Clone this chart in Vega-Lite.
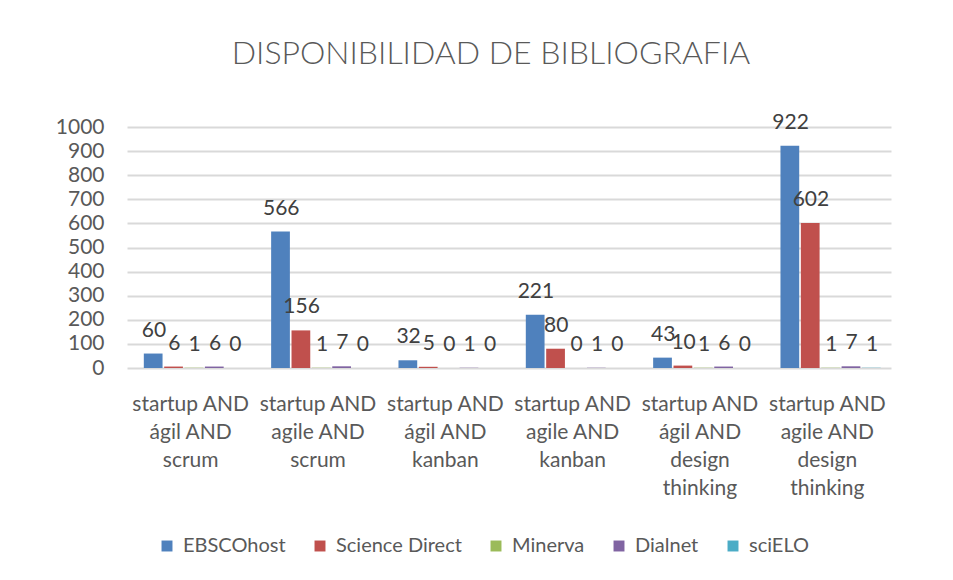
{
  "$schema": "https://vega.github.io/schema/vega-lite/v6.json",
  "width": 764,
  "height": 241,
  "autosize": {"type": "none"},
  "padding": {"left": 127, "top": 127, "right": 62, "bottom": 212},
  "background": "white",
  "title": {
    "text": "DISPONIBILIDAD DE BIBLIOGRAFIA",
    "anchor": "middle",
    "dx": -18,
    "offset": 41,
    "fontSize": 32,
    "font": "Lato",
    "fontWeight": 300,
    "color": "#595959"
  },
  "data": {
    "values": [
      {"query": "startup AND|ágil AND|scrum", "source": "EBSCOhost", "value": 60},
      {"query": "startup AND|ágil AND|scrum", "source": "Science Direct", "value": 6},
      {"query": "startup AND|ágil AND|scrum", "source": "Minerva", "value": 1},
      {"query": "startup AND|ágil AND|scrum", "source": "Dialnet", "value": 6},
      {"query": "startup AND|ágil AND|scrum", "source": "sciELO", "value": 0},
      {"query": "startup AND|agile AND|scrum", "source": "EBSCOhost", "value": 566},
      {"query": "startup AND|agile AND|scrum", "source": "Science Direct", "value": 156},
      {"query": "startup AND|agile AND|scrum", "source": "Minerva", "value": 1},
      {"query": "startup AND|agile AND|scrum", "source": "Dialnet", "value": 7},
      {"query": "startup AND|agile AND|scrum", "source": "sciELO", "value": 0},
      {"query": "startup AND|ágil AND|kanban", "source": "EBSCOhost", "value": 32},
      {"query": "startup AND|ágil AND|kanban", "source": "Science Direct", "value": 5},
      {"query": "startup AND|ágil AND|kanban", "source": "Minerva", "value": 0},
      {"query": "startup AND|ágil AND|kanban", "source": "Dialnet", "value": 1},
      {"query": "startup AND|ágil AND|kanban", "source": "sciELO", "value": 0},
      {"query": "startup AND|agile AND|kanban", "source": "EBSCOhost", "value": 221},
      {"query": "startup AND|agile AND|kanban", "source": "Science Direct", "value": 80},
      {"query": "startup AND|agile AND|kanban", "source": "Minerva", "value": 0},
      {"query": "startup AND|agile AND|kanban", "source": "Dialnet", "value": 1},
      {"query": "startup AND|agile AND|kanban", "source": "sciELO", "value": 0},
      {"query": "startup AND|ágil AND|design|thinking", "source": "EBSCOhost", "value": 43},
      {"query": "startup AND|ágil AND|design|thinking", "source": "Science Direct", "value": 10},
      {"query": "startup AND|ágil AND|design|thinking", "source": "Minerva", "value": 1},
      {"query": "startup AND|ágil AND|design|thinking", "source": "Dialnet", "value": 6},
      {"query": "startup AND|ágil AND|design|thinking", "source": "sciELO", "value": 0},
      {"query": "startup AND|agile AND|design|thinking", "source": "EBSCOhost", "value": 922},
      {"query": "startup AND|agile AND|design|thinking", "source": "Science Direct", "value": 602},
      {"query": "startup AND|agile AND|design|thinking", "source": "Minerva", "value": 1},
      {"query": "startup AND|agile AND|design|thinking", "source": "Dialnet", "value": 7},
      {"query": "startup AND|agile AND|design|thinking", "source": "sciELO", "value": 1}
    ]
  },
  "encoding": {
    "x": {
      "field": "query",
      "type": "nominal",
      "sort": null,
      "scale": {"paddingInner": 0.2, "paddingOuter": 0.1},
      "axis": {
        "title": null,
        "labelAngle": 0,
        "labelExpr": "split(datum.label, '|')",
        "labelFontSize": 21,
        "labelLineHeight": 28,
        "labelFont": "Lato",
        "labelColor": "#595959",
        "labelBaseline": "top",
        "labelPadding": 25,
        "domain": false,
        "ticks": false,
        "labelLimit": 200
      }
    },
    "xOffset": {
      "field": "source",
      "type": "nominal",
      "sort": ["EBSCOhost", "Science Direct", "Minerva", "Dialnet", "sciELO"],
      "scale": {"paddingInner": 0.0}
    },
    "y": {
      "field": "value",
      "type": "quantitative",
      "scale": {"domain": [0, 1000]},
      "axis": {
        "title": null,
        "format": "d",
        "values": [0, 100, 200, 300, 400, 500, 600, 700, 800, 900, 1000],
        "labelFontSize": 21,
        "labelFont": "Lato",
        "labelColor": "#595959",
        "labelPadding": 23,
        "domain": false,
        "ticks": false,
        "gridColor": "#d9d9d9",
        "gridWidth": 2
      }
    }
  },
  "layer": [
    {
      "mark": {"type": "bar", "width": {"band": 0.92}},
      "encoding": {
        "color": {
          "field": "source",
          "type": "nominal",
          "sort": ["EBSCOhost", "Science Direct", "Minerva", "Dialnet", "sciELO"],
          "scale": {
            "domain": ["EBSCOhost", "Science Direct", "Minerva", "Dialnet", "sciELO"],
            "range": ["#4F81BD", "#C0504D", "#9BBB59", "#8064A2", "#4BACC6"]
          },
          "legend": {
            "title": null,
            "orient": "none",
            "direction": "horizontal",
            "legendX": 30,
            "legendY": 409,
            "symbolType": "square",
            "symbolSize": 120,
            "symbolStrokeWidth": 0,
            "labelFontSize": 20,
            "labelFont": "Lato",
            "labelColor": "#595959",
            "columnPadding": 24,
            "labelOffset": 6
          }
        }
      }
    },
    {
      "mark": {"type": "text", "baseline": "bottom", "dy": -13, "dx": 4, "fontSize": 21, "font": "Lato", "color": "#404040"},
      "encoding": {
        "text": {"field": "value", "type": "quantitative"}
      }
    }
  ],
  "config": {"view": {"stroke": null}}
}
